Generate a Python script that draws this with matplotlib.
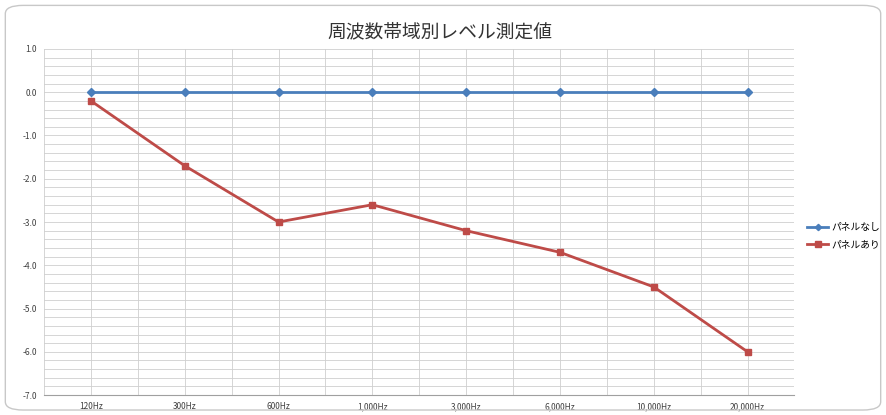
import numpy as np
import matplotlib.pyplot as plt
from matplotlib.patches import FancyBboxPatch
from matplotlib.ticker import MultipleLocator

plt.rcParams['font.family'] = ['Noto Sans CJK JP', 'DejaVu Sans']

categories = ['120Hz', '300Hz', '600Hz', '1,000Hz', '3,000Hz', '6,000Hz', '10,000Hz', '20,000Hz']
panel_none = [0.0, 0.0, 0.0, 0.0, 0.0, 0.0, 0.0, 0.0]
panel_with = [-0.2, -1.7, -3.0, -2.6, -3.2, -3.7, -4.5, -6.0]

fig = plt.figure(figsize=(8.86, 4.15), dpi=100)
fig.patches.append(FancyBboxPatch((0.006, 0.012), 0.988, 0.975, boxstyle='round,pad=0,rounding_size=0.02',
                                  transform=fig.transFigure, fill=False, edgecolor='#c8c8c8', lw=1))
ax = fig.add_axes([0.0497, 0.048, 0.847, 0.834])

x = np.arange(len(categories))
ax.plot(x, panel_none, color='#4a7ebb', lw=2, marker='D', ms=4, label='パネルなし', zorder=3)
ax.plot(x, panel_with, color='#be4b48', lw=2, marker='s', ms=5, label='パネルあり', zorder=3)

ax.set_xlim(-0.5, len(categories) - 0.5)
ax.set_ylim(-7, 1)
ax.set_xticks(x)
ax.set_xticklabels(categories, fontsize=6, color='#404040')
ax.xaxis.set_minor_locator(MultipleLocator(0.5))
ax.yaxis.set_minor_locator(MultipleLocator(0.2))
ax.set_yticks(np.arange(-7, 1.1, 1))
ax.set_yticklabels([f'{v:.1f}' for v in np.arange(-7, 1.1, 1)], fontsize=6, color='#404040')
ax.grid(which='both', color='#cfcfcf', lw=0.6)
ax.set_axisbelow(True)
ax.tick_params(length=0, which='both', pad=5)
for s in ['top', 'right', 'left']:
    ax.spines[s].set_visible(False)
ax.spines['bottom'].set_color('#a0a0a0')

fig.text(0.497, 0.923, '周波数帯域別レベル測定値', ha='center', va='center', fontsize=13.5, color='#333333')
ax.legend(loc='center left', bbox_to_anchor=(1.005, 0.46), frameon=False, fontsize=7,
          handlelength=2.2, handletextpad=0.3, labelspacing=0.7, markerscale=0.8)

fig.savefig('out.png', dpi=100)
